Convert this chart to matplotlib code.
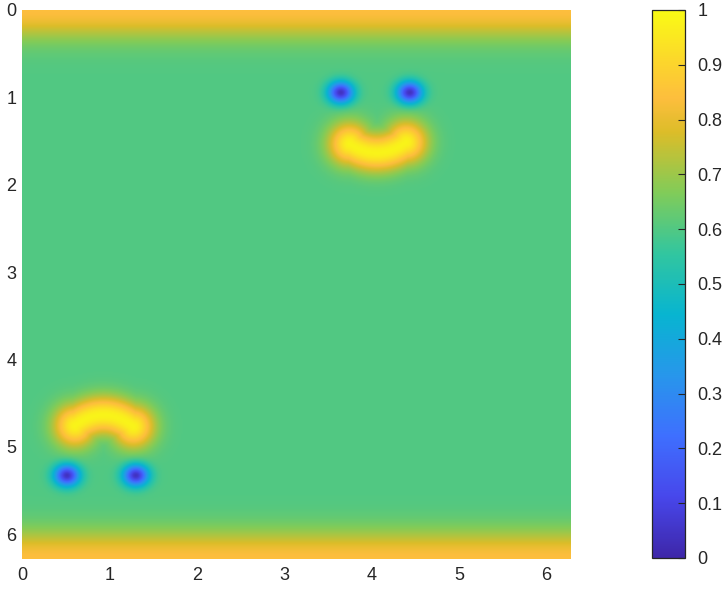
import numpy as np
import matplotlib
matplotlib.use("Agg")
import matplotlib.pyplot as plt
from matplotlib.colors import LinearSegmentedColormap

# ---- data ----
background_level = 0.6
edge_peak_level = 0.84
edge_width = 0.32

eye_amp = 0.56
eye_sigma_x = 0.10
eye_sigma_y = 0.085
eyes_x = [3.65, 4.44, 0.51, 1.30]
eyes_y = [0.94, 0.94, 5.33, 5.33]

mouth_amp = 0.38
mouth_mid_width = 0.215
mouth_lobe_width = 0.24
mouth1_x = [3.75, 4.07, 4.40]
mouth1_y = [1.53, 1.63, 1.51]
mouth2_x = [0.60, 0.94, 1.27]
mouth2_y = [4.76, 4.64, 4.77]

xticks = [0, 1, 2, 3, 4, 5, 6]
yticks = [0, 1, 2, 3, 4, 5, 6]
cbar_ticks = [0, 0.1, 0.2, 0.3, 0.4, 0.5, 0.6, 0.7, 0.8, 0.9, 1]
cbar_labels = ["0", "0.1", "0.2", "0.3", "0.4", "0.5", "0.6", "0.7", "0.8", "0.9", "1"]

parula_pos = [0, 1 / 9, 2 / 9, 3 / 9, 4 / 9, 5 / 9, 6 / 9, 7 / 9, 0.84, 8 / 9, 1]
parula_rgb = [
    [0.2422, 0.1504, 0.6603],
    [0.2803, 0.2782, 0.9221],
    [0.2440, 0.4358, 0.9988],
    [0.1540, 0.5902, 0.9218],
    [0.0297, 0.7082, 0.8163],
    [0.1938, 0.7758, 0.6251],
    [0.5044, 0.7993, 0.3480],
    [0.8634, 0.7406, 0.1596],
    [0.9930, 0.7450, 0.2400],
    [0.9892, 0.8136, 0.1885],
    [0.9769, 0.9839, 0.0805],
]
cmap = LinearSegmentedColormap.from_list("parula", list(zip(parula_pos, parula_rgb)), N=512)

# ---- field ----
L = 2 * np.pi
n = 500
xs = np.linspace(0, L, n)
ys = np.linspace(0, L, n)
X, Y = np.meshgrid(xs, ys)

Z = np.full_like(X, background_level)
edge = np.exp(-(Y / edge_width) ** 2) + np.exp(-((L - Y) / edge_width) ** 2)
Z += (edge_peak_level - background_level) * edge

for ex, ey in zip(eyes_x, eyes_y):
    Z -= eye_amp * np.exp(-((X - ex) ** 2 / (2 * eye_sigma_x ** 2) + (Y - ey) ** 2 / (2 * eye_sigma_y ** 2)))


def mouth_field(px, py):
    coef = np.polyfit(px, py, 2)
    t = np.linspace(px[0], px[-1], 200)
    cy = np.polyval(coef, t)
    d2 = np.full_like(X, np.inf)
    for cx_, cy_ in zip(t, cy):
        d2 = np.minimum(d2, (X - cx_) ** 2 + (Y - cy_) ** 2)
    shape = np.exp(-d2 / mouth_mid_width ** 2)
    for lx, ly in [(px[0], py[0]), (px[-1], py[-1])]:
        r2 = (X - lx) ** 2 + (Y - ly) ** 2
        shape = np.maximum(shape, np.exp(-r2 / mouth_lobe_width ** 2))
    return mouth_amp * shape


Z += mouth_field(mouth1_x, mouth1_y)
Z += mouth_field(mouth2_x, mouth2_y)

# ---- plot ----
W, H = 722, 590
fig = plt.figure(figsize=(W / 100, H / 100), dpi=100)
plt.rcParams['font.family'] = ['Liberation Sans', 'DejaVu Sans']
tc = '#262626'

ax = fig.add_axes([22 / W, (H - 559) / H, 549 / W, 549 / H])
im = ax.imshow(Z, cmap=cmap, vmin=0, vmax=1, extent=[0, L, L, 0],
               origin='upper', interpolation='bilinear', aspect='auto')
ax.set_xlim(0, L)
ax.set_ylim(L, 0)
for s in ax.spines.values():
    s.set_visible(False)
ax.set_xticks(xticks)
ax.set_yticks(yticks)
ax.tick_params(length=0, labelsize=13, colors=tc, pad=6)
ax.tick_params(axis='y', pad=4)

cax = fig.add_axes([652 / W, (H - 558) / H, 33 / W, 548 / H])
cb = fig.colorbar(im, cax=cax, ticks=cbar_ticks)
cb.ax.set_yticklabels(cbar_labels)
cb.ax.tick_params(direction='in', length=5, width=0.8, labelsize=13, colors=tc, pad=9)
cb.outline.set_edgecolor(tc)
cb.outline.set_linewidth(0.9)

fig.savefig("out.png", dpi=100)
